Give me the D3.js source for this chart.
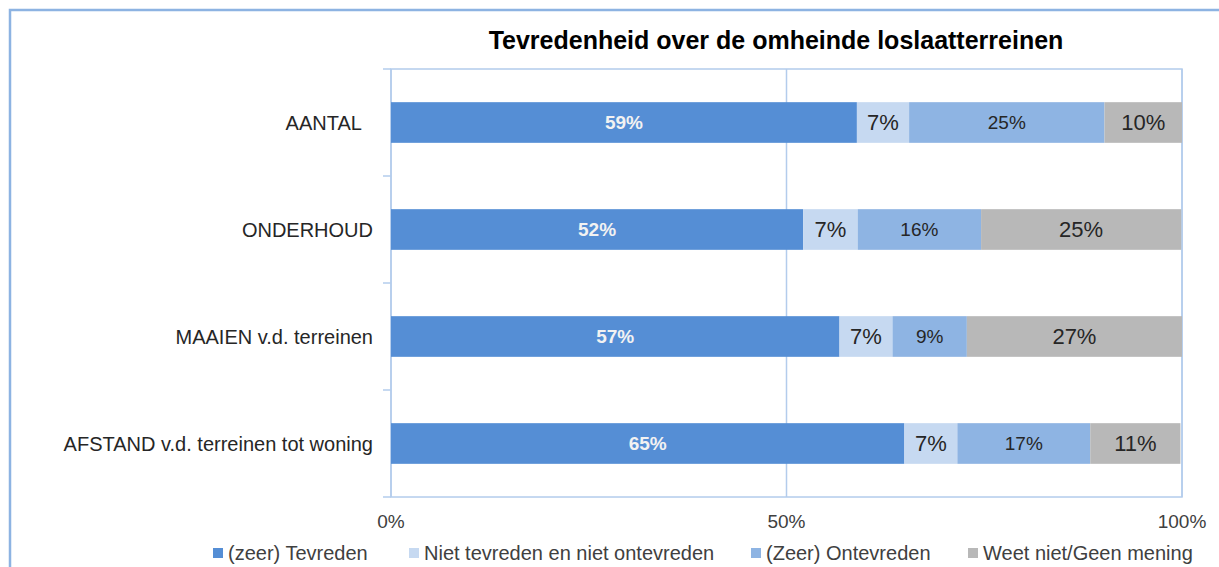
<!DOCTYPE html>
<html>
<head>
<meta charset="utf-8">
<script src="https://cdn.jsdelivr.net/npm/d3@7/dist/d3.min.js"></script>
<style>
  body { margin: 0; background: #fff; }
  text { font-family: "Liberation Sans", Arial, sans-serif; }
</style>
</head>
<body>
<div id="chart"></div>
<script>
// chart data
var categories = ["AANTAL", "ONDERHOUD", "MAAIEN v.d. terreinen", "AFSTAND v.d. terreinen tot woning"];
var seriesNames = ["(zeer) Tevreden", "Niet tevreden en niet ontevreden", "(Zeer) Ontevreden", "Weet niet/Geen mening"];
var tevreden = [58.9, 52.1, 56.7, 64.9];
var neutraal = [6.6, 6.9, 6.7, 6.7];
var ontevreden = [24.7, 15.6, 9.4, 16.8];
var weetNiet = [9.8, 25.3, 27.2, 11.4];
var xTicks = [0, 50, 100];

var svgWidth = 1219;
var svgHeight = 567;

var margin = { top: 69, right: 37, bottom: 70, left: 391 };
var width = svgWidth - margin.left - margin.right;
var height = svgHeight - margin.top - margin.bottom;

var colors = ["#558ED5", "#C6D9F1", "#8EB4E3", "#B8B8B8"];
var gridColor = "#B3CCEC";

var svg = d3.select("#chart")
  .append("svg")
  .attr("width", svgWidth)
  .attr("height", svgHeight);

// outer frame (only top and left visible)
svg.append("path")
  .attr("d", `M10,${svgHeight} L10,10 L${svgWidth},10`)
  .attr("fill", "none")
  .attr("stroke", "#8DB3E2")
  .attr("stroke-width", 2.5);

// title
svg.append("text")
  .attr("x", 776)
  .attr("y", 49)
  .attr("text-anchor", "middle")
  .style("font-size", "25px")
  .style("font-weight", "bold")
  .attr("fill", "#000")
  .text("Tevredenheid over de omheinde loslaatterreinen");

var chartGroup = svg.append("g")
  .attr("transform", `translate(${margin.left}, ${margin.top})`);

// build rows for the stack
var keys = ["tevreden", "neutraal", "ontevreden", "weetNiet"];
var rows = categories.map(function(c, i) {
  return { cat: c, tevreden: tevreden[i], neutraal: neutraal[i], ontevreden: ontevreden[i], weetNiet: weetNiet[i] };
});
var stacked = d3.stack().keys(keys)(rows);

var xScale = d3.scaleLinear().domain([0, 100]).range([0, width]);
var yScale = d3.scaleBand().domain(categories).range([0, height]).padding(0);
var barH = yScale.bandwidth() * 0.38;

// plot area border + 50% gridline
chartGroup.append("rect")
  .attr("x", 0).attr("y", 0)
  .attr("width", width).attr("height", height)
  .attr("fill", "none")
  .attr("stroke", gridColor)
  .attr("stroke-width", 1.5);

chartGroup.selectAll(".grid")
  .data(xTicks)
  .enter()
  .append("line")
  .attr("x1", d => xScale(d)).attr("x2", d => xScale(d))
  .attr("y1", 0).attr("y2", height)
  .attr("stroke", gridColor)
  .attr("stroke-width", 1.5);

// y ticks at category boundaries
var boundaries = categories.map(c => yScale(c)).concat([height]);
chartGroup.selectAll(".ytick")
  .data(boundaries)
  .enter()
  .append("line")
  .attr("x1", -8).attr("x2", 0)
  .attr("y1", d => d).attr("y2", d => d)
  .attr("stroke", gridColor)
  .attr("stroke-width", 1.5);

// category labels
chartGroup.selectAll(".catlabel")
  .data(categories)
  .enter()
  .append("text")
  .attr("x", -18)
  .attr("y", d => yScale(d) + yScale.bandwidth() / 2)
  .attr("dy", "0.35em")
  .attr("text-anchor", "end")
  .style("font-size", "20px")
  .attr("fill", "#262626")
  .text(d => d === "AANTAL" ? d + "\u00a0\u00a0" : d);

// x tick labels
chartGroup.selectAll(".xlabel")
  .data(xTicks)
  .enter()
  .append("text")
  .attr("x", d => xScale(d))
  .attr("y", height + 31)
  .attr("text-anchor", "middle")
  .style("font-size", "19px")
  .attr("fill", "#404040")
  .text(d => d + "%");

// bars
var layers = chartGroup.selectAll(".layer")
  .data(stacked)
  .enter()
  .append("g")
  .attr("fill", (d, i) => colors[i]);

layers.selectAll("rect")
  .data(d => d)
  .enter()
  .append("rect")
  .attr("x", d => xScale(d[0]))
  .attr("y", d => yScale(d.data.cat) + (yScale.bandwidth() - barH) / 2)
  .attr("width", d => xScale(d[1]) - xScale(d[0]))
  .attr("height", barH);

// value labels
var labelSize = ["19px", "22px", "19px", "22px"];
layers.each(function(layer, li) {
  d3.select(this).selectAll("text")
    .data(layer)
    .enter()
    .append("text")
    .attr("x", d => (xScale(d[0]) + xScale(d[1])) / 2)
    .attr("y", d => yScale(d.data.cat) + yScale.bandwidth() / 2)
    .attr("dy", "0.36em")
    .attr("text-anchor", "middle")
    .style("font-size", labelSize[li])
    .style("font-weight", li === 0 ? "bold" : "normal")
    .attr("fill", li === 0 ? "#F2F2F2" : "#262626")
    .text(d => Math.round(d[1] - d[0]) + "%");
});

// legend
var legendX = [213, 409, 751, 968];
var legend = svg.selectAll(".legend")
  .data(seriesNames)
  .enter()
  .append("g")
  .attr("transform", (d, i) => `translate(${legendX[i]}, 553)`);

legend.append("rect")
  .attr("x", 0).attr("y", -5)
  .attr("width", 10).attr("height", 10)
  .attr("fill", (d, i) => colors[i]);

legend.append("text")
  .attr("x", 15)
  .attr("y", 0)
  .attr("dy", "0.35em")
  .style("font-size", "20px")
  .attr("fill", "#404040")
  .text(d => d);
</script>
</body>
</html>
